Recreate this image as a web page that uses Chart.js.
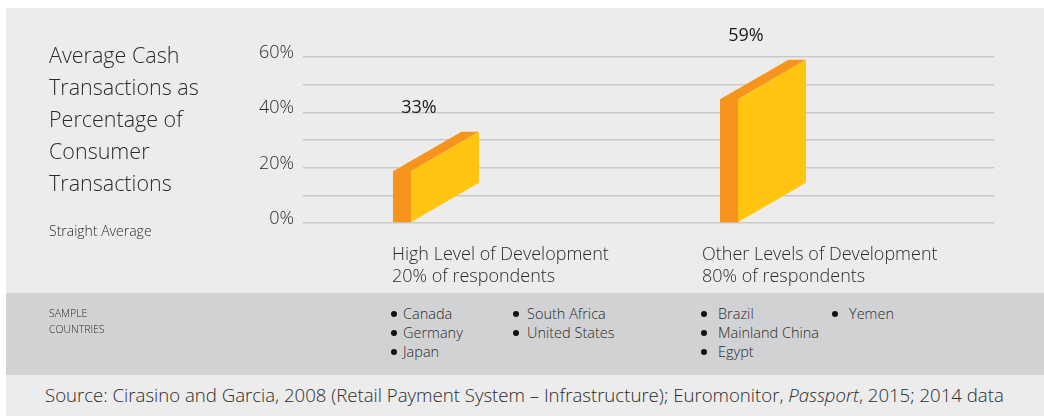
<!DOCTYPE html>
<html>
<head>
<meta charset="utf-8">
<script src="https://cdn.jsdelivr.net/npm/chart.js@4"></script>
<style>
  body { margin: 0; background: #fff; font-family: "Open Sans", sans-serif; font-weight: 300; color: #2b2b2b; }
  #bg { position: absolute; left: 6px; top: 8px; width: 1038px; height: 408px; background: #ececec; }
  #chartBox { position: absolute; left: 0; top: 0; width: 1044px; height: 292px; }
  #title { position: absolute; left: 49px; top: 39px; font-size: 21.5px; line-height: 32px; }
  #subtitle { position: absolute; left: 49px; top: 221px; font-size: 14px; line-height: 20px; }
  .cat { position: absolute; top: 242px; font-size: 18px; line-height: 22px; white-space: nowrap; }
  #band { position: absolute; left: 6px; top: 293px; width: 1038px; height: 82px; background: #d1d2d4; }
  #sample { position: absolute; left: 49px; top: 305px; font-size: 10.5px; line-height: 16px; }
  .col { position: absolute; top: 304px; font-size: 14.5px; line-height: 19px; white-space: nowrap; }
  .col div { position: relative; }
  .dot { position: absolute; top: 7px; width: 6px; height: 6px; border-radius: 50%; background: #111; }
  #source { position: absolute; left: 45px; top: 383px; font-size: 18.6px; line-height: 24px; white-space: nowrap; }
</style>
</head>
<body>
<div id="bg"></div>
<div id="band"></div>
<div id="chartBox"><canvas id="cashChart"></canvas></div>
<div id="title">Average Cash<br>Transactions as<br>Percentage of<br>Consumer<br>Transactions</div>
<div id="subtitle">Straight Average</div>
<div id="sample">SAMPLE<br>COUNTRIES</div>
<div id="source">Source: Cirasino and Garcia, 2008 (Retail Payment System – Infrastructure); Euromonitor, <i>Passport</i>, 2015; 2014 data</div>
<script>
// Chart data
const categories = ['High Level of Development', 'Other Levels of Development'];
const respondents = ['20% of respondents', '80% of respondents'];
const cashShare = [33, 59];          // % of consumer transactions paid in cash
const yTicks = [0, 20, 40, 60];      // labelled ticks on the y axis
const countriesHigh = ['Canada', 'Germany', 'Japan', 'South Africa', 'United States'];
const countriesOther = ['Brazil', 'Mainland China', 'Egypt', 'Yemen'];

// Category labels under the plot
const catLeft = [392, 702];
categories.forEach((name, i) => {
  const el = document.createElement('div');
  el.className = 'cat';
  el.style.left = catLeft[i] + 'px';
  el.innerHTML = name + '<br>' + respondents[i];
  document.body.appendChild(el);
});

// Sample countries, three per column
function addColumn(list, left, gap) {
  const col = document.createElement('div');
  col.className = 'col';
  col.style.left = left + 'px';
  list.forEach(name => {
    const row = document.createElement('div');
    row.style.paddingLeft = gap + 'px';
    row.innerHTML = '<span class="dot" style="left:-3px"></span>' + name;
    col.appendChild(row);
  });
  document.body.appendChild(col);
}
addColumn(countriesHigh.slice(0, 3), 394, 9);
addColumn(countriesHigh.slice(3), 516, 11);
addColumn(countriesOther.slice(0, 3), 704, 14);
addColumn(countriesOther.slice(3), 835, 14);

// Draws each bar as a slanted box: orange side + top, yellow face
const slantBars = {
  id: 'slantBars',
  afterDatasetsDraw(chart) {
    const ctx = chart.ctx;
    chart.getDatasetMeta(0).data.forEach((bar, i) => {
      const left = bar.x - 43;
      const side = left + 18;
      const right = left + 86;
      const skew = 39.5;
      const topR = bar.y;
      const topL = bar.y + skew;
      const base = bar.base;
      ctx.save();
      ctx.fillStyle = '#f7941d';
      ctx.beginPath();
      ctx.moveTo(left, base);
      ctx.lineTo(left, topL);
      ctx.lineTo(left + 68.5, topR);
      ctx.lineTo(right, topR);
      ctx.lineTo(side, topL);
      ctx.lineTo(side, base);
      ctx.closePath();
      ctx.fill();
      ctx.fillStyle = '#ffc511';
      ctx.beginPath();
      ctx.moveTo(side, base);
      ctx.lineTo(side, topL);
      ctx.lineTo(right, topR);
      ctx.lineTo(right, base - skew);
      ctx.closePath();
      ctx.fill();
      // value label
      ctx.fillStyle = '#1a1a1a';
      ctx.font = '400 18px "Open Sans"';
      ctx.textAlign = 'center';
      ctx.textBaseline = 'middle';
      ctx.fillText(cashShare[i] + '%', left + 26, topR - 24);
      ctx.restore();
    });
  }
};

const ctx = document.getElementById('cashChart').getContext('2d');
const cashChart = new Chart(ctx, {
  type: 'bar',
  data: {
    datasets: [{
      data: cashShare.map((v, i) => ({ x: i, y: v })),
      backgroundColor: 'rgba(0,0,0,0)'
    }]
  },
  options: {
    responsive: true,
    maintainAspectRatio: false,
    animation: false,
    layout: { padding: { left: 0, right: 50, top: 57, bottom: 69 } },
    scales: {
      x: {
        type: 'linear',
        display: false,
        offset: false,
        min: -0.4067,
        max: 1.7064
      },
      y: {
        min: 0,
        max: 60,
        ticks: {
          stepSize: 10,
          padding: 9,
          labelOffset: -4,
          color: '#2b2b2b',
          font: { family: '"Open Sans"', size: 18, weight: 300 },
          callback: v => yTicks.includes(v) ? v + '%' : ''
        },
        grid: { color: '#c9c9c9', lineWidth: 1.5, drawTicks: false },
        border: { display: false },
        afterFit: scale => { scale.width = 303; }
      }
    },
    plugins: {
      legend: { display: false },
      tooltip: { enabled: false }
    }
  },
  plugins: [slantBars]
});
</script>
</body>
</html>
